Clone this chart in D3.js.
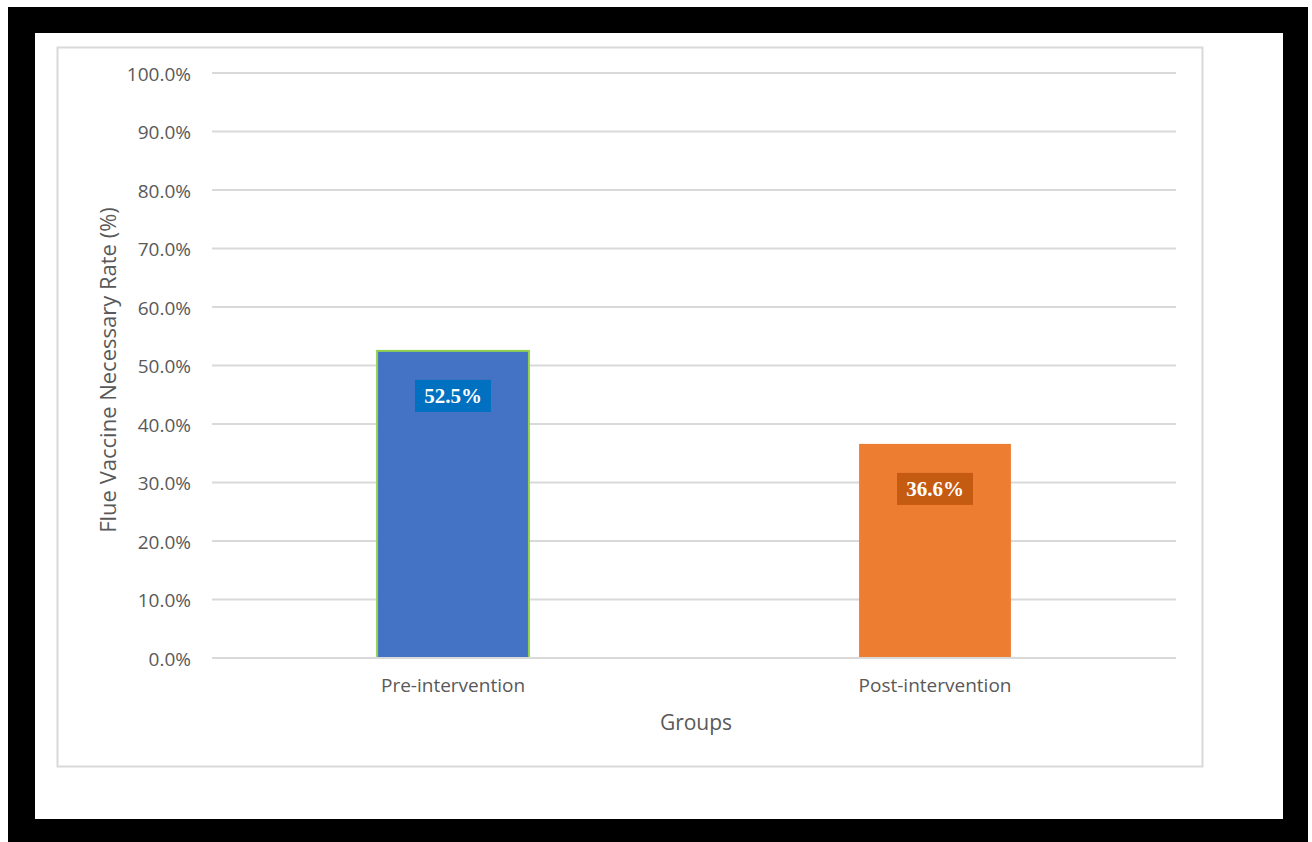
<!DOCTYPE html>
<html>
<head>
<meta charset="utf-8">
<script src="https://cdn.jsdelivr.net/npm/d3@7"></script>
<style>
  body { margin: 0; background: #fff; }
  svg text { font-family: "Open Sans", "Liberation Sans", sans-serif; }
</style>
</head>
<body>
<svg id="chart" width="1312" height="842"></svg>
<script>
// chart values
var groups = ['Pre-intervention', 'Post-intervention']
var rates = [52.5, 36.6]
var barColors = ['#4472c4', '#ed7d31']
var labelBoxColors = ['#0070c0', '#c55a11']
var yTicks = [0, 10, 20, 30, 40, 50, 60, 70, 80, 90, 100]

var svg = d3.select('#chart')

// black frame around the picture
svg.append('rect').attr('x', 0).attr('y', 0).attr('width', 1312).attr('height', 842).style('fill', '#fff')
svg.append('rect').attr('x', 8).attr('y', 7).attr('width', 1300).attr('height', 835).style('fill', '#000')
svg.append('rect').attr('x', 35).attr('y', 33).attr('width', 1248).attr('height', 786).style('fill', '#fff')

// chart area border
svg.append('rect')
    .attr('x', 57.5).attr('y', 47.5).attr('width', 1145).attr('height', 719)
    .style('fill', '#fff').style('stroke', '#d9d9d9').style('stroke-width', 2)

var plotLeft = 212, plotRight = 1176, plotTop = 73, plotBottom = 658

var x = d3.scaleBand().domain(groups).range([plotLeft, plotRight]).paddingInner(0.685).paddingOuter(0.3425)
var y = d3.scaleLinear().domain([0, 100]).range([plotBottom, plotTop])

// gridlines
svg.append('g').selectAll('line')
    .data(yTicks)
    .enter()
    .append('line')
    .attr('x1', plotLeft).attr('x2', plotRight)
    .attr('y1', function (d) { return y(d) }).attr('y2', function (d) { return y(d) })
    .style('stroke', '#d9d9d9').style('stroke-width', 2)

// y tick labels
var yAxis = d3.axisLeft(y).tickValues(yTicks).tickSize(0).tickPadding(0)
    .tickFormat(function (d) { return d.toFixed(1) + '%' })
var yAxisG = svg.append('g').attr('transform', 'translate(191,1)').call(yAxis)
yAxisG.select('.domain').remove()
yAxisG.selectAll('text').style('font-size', '19px').style('fill', '#595959')

// bars
svg.append('g').selectAll('rect')
    .data(rates)
    .enter()
    .append('rect')
    .attr('x', function (d, i) { return x(groups[i]) })
    .attr('y', function (d) { return y(d) })
    .attr('width', x.bandwidth())
    .attr('height', function (d) { return y(0) - y(d) })
    .style('fill', function (d, i) { return barColors[i] })
    .style('stroke', function (d, i) { return i === 0 ? '#92d050' : 'none' })
    .style('stroke-width', 2)

// axis line redrawn over bars
svg.append('line')
    .attr('x1', plotLeft).attr('x2', plotRight).attr('y1', y(0)).attr('y2', y(0))
    .style('stroke', '#d9d9d9').style('stroke-width', 2)

// value labels
var labels = svg.append('g').selectAll('g')
    .data(rates)
    .enter()
    .append('g')
    .attr('transform', function (d, i) {
        return 'translate(' + (x(groups[i]) + x.bandwidth() / 2) + ',' + (y(d) + 45) + ')'
    })
labels.append('rect')
    .attr('x', -38).attr('y', -16).attr('width', 76).attr('height', 32)
    .style('fill', function (d, i) { return labelBoxColors[i] })
labels.append('text')
    .attr('text-anchor', 'middle').attr('dy', '0.35em')
    .style('font-family', '"Liberation Serif", "Times New Roman", serif')
    .style('font-weight', 'bold').style('font-size', '21px').style('fill', '#fff')
    .text(function (d) { return d.toFixed(1) + '%' })

// category labels
var xAxis = d3.axisBottom(x).tickSize(0).tickPadding(0)
var xAxisG = svg.append('g').attr('transform', 'translate(0,' + (plotBottom + 20) + ')').call(xAxis)
xAxisG.select('.domain').remove()
xAxisG.selectAll('text').style('font-size', '19px').style('fill', '#595959')

// axis titles
svg.append('text')
    .attr('x', (plotLeft + plotRight) / 2 + 2).attr('y', 730)
    .attr('text-anchor', 'middle')
    .style('font-size', '21px').style('fill', '#595959')
    .text('Groups')
svg.append('text')
    .attr('transform', 'translate(116,370) rotate(-90)')
    .attr('text-anchor', 'middle')
    .style('font-size', '22px').style('fill', '#595959')
    .text('Flue Vaccine Necessary Rate (%)')
</script>
</body>
</html>
